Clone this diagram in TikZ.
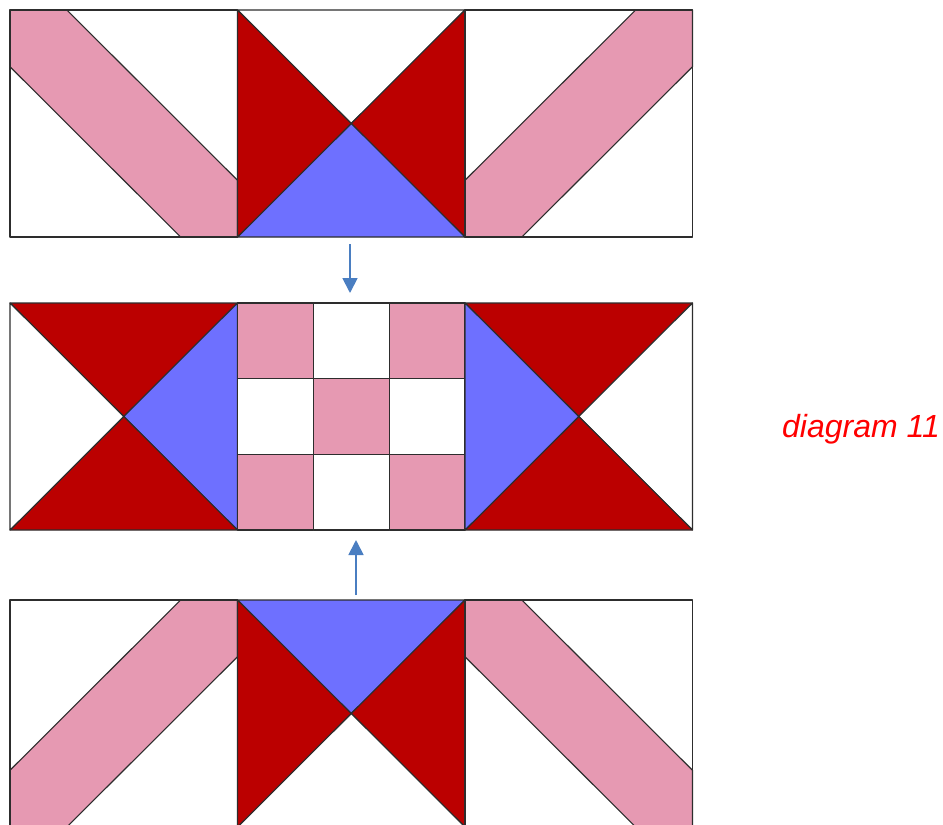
\documentclass[tikz,border=0pt]{standalone}
\usepackage{fontspec}
\setmainfont{Liberation Sans}
\usetikzlibrary{arrows.meta}
\definecolor{qpink}{RGB}{230,153,178}
\definecolor{qred}{RGB}{187,0,0}
\definecolor{qblue}{RGB}{110,112,255}
\definecolor{qarrow}{RGB}{74,126,193}
\definecolor{qline}{RGB}{45,45,45}
\definecolor{qtext}{RGB}{255,0,0}
\tikzset{
  patch/.style={draw=qline, line width=1.1pt, line join=round},
  pinkp/.style={patch, fill=qpink},
  whitep/.style={patch, fill=white},
  flow/.style={draw=qarrow, line width=1.8pt, -{Triangle[width=15pt,length=15pt]}},
  blk/.style={shift={#1}, x=227.5pt, y=-227pt},
  label11/.style={text=qtext, font=\fontsize{32}{38}\selectfont\itshape, inner sep=0pt, anchor=base},
}
% band running from top-left to bottom-right
\newcommand\qbandD[1]{%
  \begin{scope}[blk={#1}]
    \fill[white] (0,0) rectangle (1,1);
    \draw[pinkp] (0,0)--(0.25,0)--(1,0.75)--(1,1)--(0.75,1)--(0,0.25)--cycle;
    \draw[patch] (0,0) rectangle (1,1);
  \end{scope}}
% band running from bottom-left to top-right
\newcommand\qbandU[1]{%
  \begin{scope}[blk={#1}]
    \fill[white] (0,0) rectangle (1,1);
    \draw[pinkp] (1,0)--(0.75,0)--(0,0.75)--(0,1)--(0.25,1)--(1,0.25)--cycle;
    \draw[patch] (0,0) rectangle (1,1);
  \end{scope}}
% quarter-square triangles: top, right, bottom, left colours
\newcommand\qhour[5]{%
  \begin{scope}[blk={#1}]
    \draw[patch, fill=#2] (0,0)--(1,0)--(0.5,0.5)--cycle;
    \draw[patch, fill=#3] (1,0)--(1,1)--(0.5,0.5)--cycle;
    \draw[patch, fill=#4] (1,1)--(0,1)--(0.5,0.5)--cycle;
    \draw[patch, fill=#5] (0,1)--(0,0)--(0.5,0.5)--cycle;
  \end{scope}}
% nine patch
\newcommand\qnine[1]{%
  \begin{scope}[blk={#1}]
    \foreach \i in {0,1,2}{\foreach \j in {0,1,2}{%
      \pgfmathtruncatemacro\qs{mod(\i+\j,2)}%
      \ifnum\qs=0
        \draw[pinkp] (\i/3,\j/3) rectangle ({(\i+1)/3},{(\j+1)/3});
      \else
        \draw[whitep] (\i/3,\j/3) rectangle ({(\i+1)/3},{(\j+1)/3});
      \fi
    }}
  \end{scope}}
\begin{document}
\begin{tikzpicture}[x=1pt, y=-1pt]
  \useasboundingbox (0,0) rectangle (943,825);
  \fill[white] (0,0) rectangle (943,825);
  \begin{scope}
    \clip (0,0) rectangle (943,825);
    % top row
    \qbandD{(10,10)}
    \qhour{(237.5,10)}{white}{qred}{qblue}{qred}
    \qbandU{(465,10)}
    % middle row
    \qhour{(10,303)}{qred}{qblue}{qred}{white}
    \qnine{(237.5,303)}
    \qhour{(465,303)}{qred}{white}{qred}{qblue}
    % bottom row
    \qbandU{(10,600)}
    \qhour{(237.5,600)}{qblue}{qred}{white}{qred}
    \qbandD{(465,600)}
  \end{scope}
  % arrows
  \coordinate (a1s) at (350,244);
  \coordinate (a1e) at (350,293);
  \coordinate (a2s) at (356,595);
  \coordinate (a2e) at (356,540);
  \draw[flow] (a1s) -- (a1e);
  \draw[flow] (a2s) -- (a2e);
  % label
  \node[label11] (lbl) at (861,437.5) {diagram 11};
\end{tikzpicture}
\end{document}
